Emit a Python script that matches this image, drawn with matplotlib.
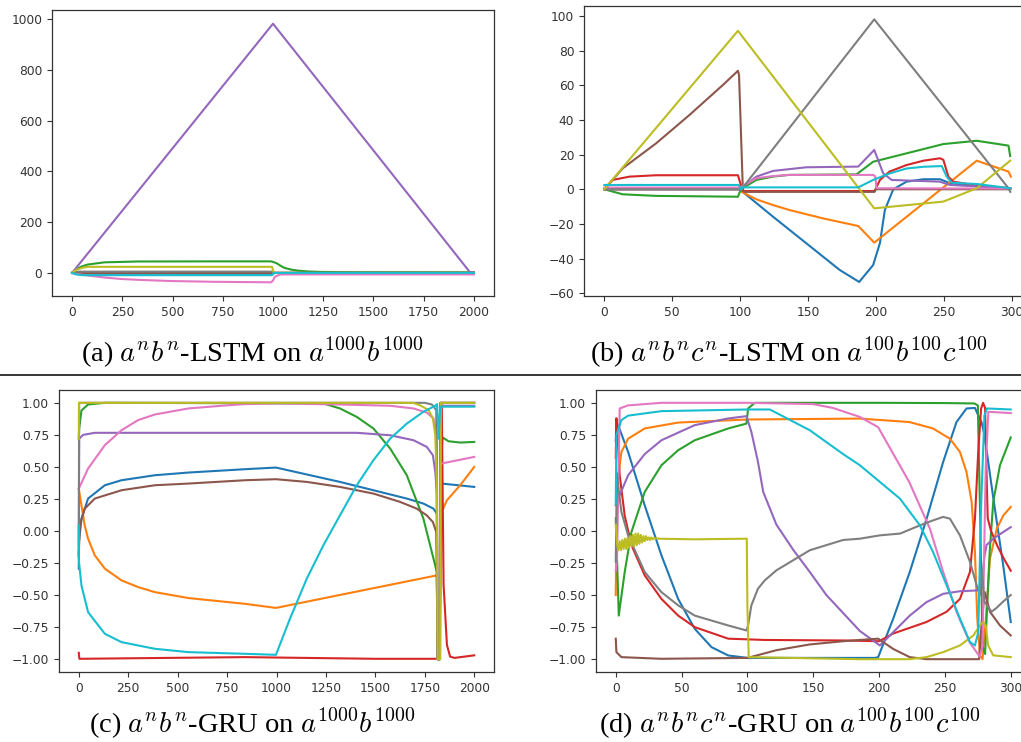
import matplotlib
matplotlib.use("Agg")
import matplotlib.pyplot as plt
from matplotlib.ticker import MultipleLocator, FuncFormatter
from matplotlib.lines import Line2D

plt.rcParams['mathtext.fontset'] = 'cm'
plt.rcParams['font.family'] = ['DejaVu Sans']

COLORS = ['#1f77b4', '#ff7f0e', '#2ca02c', '#d62728', '#9467bd',
          '#8c564b', '#e377c2', '#7f7f7f', '#bcbd22', '#17becf']

# ---------------- Panel (a): a^n b^n LSTM ----------------
a0_x = [0, 50, 1000, 1010, 2000];             a0_y = [0, -3, -3, 0, 0]
a1_x = [0, 50, 1000, 1010, 2000];             a1_y = [0, 3, 3, 0, 0]
a2_x = [0, 20, 50, 78, 161, 327, 700, 991, 1016, 1040, 1058, 1090, 1124, 1180, 1240, 1400, 2000]
a2_y = [0, 15, 26, 33, 41.7, 45, 45.5, 45.5, 39, 27, 19.6, 13, 9, 5.5, 3.9, 2.5, 2]
a3_x = [0, 30, 1000, 1010, 2000];             a3_y = [0, 2, 2, 0, 0]
a4_x = [0, 1000, 1980, 2000];                 a4_y = [0, 982, 3, 3]
a5_x = [0, 1000, 1005, 2000];                 a5_y = [0, 0, 0, 0]
a6_x = [0, 30, 78, 160, 244, 350, 493, 700, 991, 1000, 1008, 1030, 1041, 2000]
a6_y = [0, -5, -10, -18, -24, -28, -32, -35, -37, -30, -16, -8, -6, -6]
a7_x = [0, 30, 995, 1005, 2000];              a7_y = [0, 5, 5, 0, 0]
a8_x = [0, 20, 50, 78, 995, 1002, 1010, 2000]; a8_y = [0, 12, 20, 24, 24, 5, 0, 0]
a9_x = [0, 20, 50, 995, 1005, 2000];          a9_y = [0, -6, -9, -9, 0, 0]

# ---------------- Panel (b): a^n b^n c^n LSTM ----------------
b0_x = [0, 99.6, 124.2, 148.8, 173.4, 187.7, 198, 203, 206.6, 212.8, 222.6, 235, 247.3, 254.6, 271.8, 299]
b0_y = [0, 0, -15.8, -31.2, -46.6, -53.5, -43.7, -31, -12, 0, 4.4, 5.8, 5.8, 3.5, 2, 0.4]
b1_x = [0, 100, 100.9, 112, 124.2, 136.5, 161.1, 187, 198.8, 274.3, 297.7, 299.4]
b1_y = [0, 0, -1.4, -5.8, -9.1, -12, -16.8, -21.2, -30.8, 16.5, 10.2, 7.3]
b2_x = [0, 13.5, 38, 98.4, 100.5, 112, 124, 136, 185.7, 198, 249.7, 274.3, 297.7, 298.9]
b2_y = [0, -2.9, -3.8, -4.3, 0, 5.4, 7.3, 8.3, 8.6, 15.9, 26.1, 28, 25.2, 19.2]
b3_x = [0, 6.1, 18.5, 38, 98.4, 100.9, 102, 199, 199.7, 203, 210, 222.6, 235, 247.2, 249.7, 253.4, 257, 271.8, 299]
b3_y = [0, 5.4, 7.3, 8.1, 8.1, 1.5, -1, -1, 0, 5.4, 10.2, 14, 16.5, 17.9, 17, 7.3, 4.4, 2.5, 0.6]
b4_x = [0, 100, 101, 112, 124.2, 148.8, 187, 198.8, 205.4, 211.6, 247, 254.6, 299]
b4_y = [0, 0, 0.8, 7.3, 10.6, 12.7, 13.1, 22.7, 9.2, 5.4, 4.4, 2.5, 0.6]
b5_x = [0, 13.5, 38.1, 62.7, 87.3, 98.4, 99.2, 102, 103, 199, 200, 299]
b5_y = [0, 12.1, 26.5, 42.9, 60.2, 68.4, 66, 0, -1.5, -1.5, 0, 0]
b6_x = [0, 100, 101, 112, 124, 136, 198, 199.5, 200.5, 299]
b6_y = [1, 1, 1.5, 6.4, 7.6, 8.3, 8.3, 7.5, 0.6, 0.4]
b7_x = [0, 100, 101, 198.8, 297.7, 299]
b7_y = [0, 0, 0, 98.1, 0.6, -1.5]
b8_x = [0, 98.4, 198.8, 249.7, 274.3, 298.9]
b8_y = [0, 91.5, -11, -7.1, 0.6, 16.5]
b9_x = [0, 99, 100.5, 102, 187, 198, 210.3, 222.6, 235, 248.5, 252.2, 255.9, 275, 299]
b9_y = [2.5, 2.5, 0, 1.1, 1.1, 5.4, 9.2, 12, 13, 13.4, 7.3, 3.8, 3, 0.6]

# ---------------- Panel (c): a^n b^n GRU ----------------
c0_x = [0, 1, 13.5, 47, 132, 216, 385, 554, 840, 997, 1321, 1490, 1659, 1743, 1794, 1811, 1815, 1826, 1829, 1836, 2000]
c0_y = [-0.294, -0.086, 0.096, 0.253, 0.357, 0.396, 0.435, 0.456, 0.482, 0.495, 0.383, 0.318, 0.253, 0.214, 0.174, 0.135, -1.0, -1.0, 0.37, 0.37, 0.344]
c1_x = [0, 13.5, 30, 47, 81, 132, 216, 300, 385, 554, 840, 997, 1811, 1815, 1826, 1829, 1836, 1862, 1929, 2000]
c1_y = [0.33, 0.2, 0.044, -0.06, -0.19, -0.294, -0.385, -0.4375, -0.477, -0.523, -0.568, -0.6, -0.346, -1.0, -1.0, 0.12, 0.15, 0.24, 0.357, 0.5]
c2_x = [0, 2, 13.5, 47, 132, 1237, 1321, 1406, 1490, 1575, 1659, 1743, 1811, 1815, 1826, 1829, 1840, 1870, 1930, 2000]
c2_y = [0.72, 0.8, 0.94, 0.987, 1.0, 0.995, 0.956, 0.89, 0.8, 0.643, 0.435, 0.096, -0.32, -1.0, -1.0, 0.5, 0.73, 0.70, 0.69, 0.695]
c3_x = [0, 3, 840, 1500, 1827, 1831, 1836, 1845, 1862, 1878, 1900, 2000]
c3_y = [-0.95, -0.997, -0.984, -0.997, -0.997, 1.0, 0.98, -0.42, -0.89, -0.98, -0.99, -0.97]
c4_x = [0, 2, 22, 81, 1406, 1575, 1693, 1760, 1791, 1803, 1811, 1815, 1826, 1829, 2000]
c4_y = [-0.2, 0.72, 0.75, 0.766, 0.766, 0.747, 0.708, 0.656, 0.591, 0.461, 0.3, -1.0, -1.0, 0.977, 0.977]
c5_x = [0, 5, 30, 81, 216, 385, 554, 840, 997, 1153, 1321, 1490, 1625, 1710, 1760, 1791, 1808, 1815, 1826, 1829, 2000]
c5_y = [-0.19, 0.044, 0.174, 0.253, 0.318, 0.357, 0.37, 0.396, 0.404, 0.383, 0.344, 0.292, 0.227, 0.174, 0.122, 0.07, -0.008, -1.0, -1.0, 1.0, 1.0]
c6_x = [0, 47, 132, 216, 300, 385, 554, 722, 840, 1000, 1321, 1575, 1693, 1760, 1794, 1811, 1815, 1826, 1829, 1836, 2000]
c6_y = [0.33, 0.487, 0.67, 0.786, 0.865, 0.909, 0.956, 0.977, 0.99, 0.995, 0.987, 0.977, 0.956, 0.924, 0.878, 0.747, -1.0, -1.0, 0.52, 0.527, 0.578]
c7_x = [0, 2, 1750, 1786, 1808, 1815, 1826, 1829, 2000]
c7_y = [-0.1, 1.0, 1.0, 0.987, 0.943, -1.0, -1.0, 1.0, 1.0]
c8_x = [0, 1, 1690, 1727, 1769, 1791, 1803, 1811, 1815, 1828, 1831, 2000]
c8_y = [0.72, 1.0, 1.0, 0.98, 0.943, 0.878, 0.747, 0.357, -1.0, -1.0, 1.0, 1.0]
c9_x = [0, 1, 13.5, 47, 132, 216, 385, 554, 840, 997, 1068, 1153, 1237, 1321, 1406, 1490, 1575, 1659, 1743, 1803, 1812, 1820, 1828, 2000]
c9_y = [0.044, -0.24, -0.424, -0.633, -0.802, -0.867, -0.919, -0.945, -0.958, -0.966, -0.685, -0.372, -0.112, 0.122, 0.357, 0.552, 0.721, 0.838, 0.93, 0.977, 0.99, 0.72, 0.97, 0.97]

# ---------------- Panel (d): a^n b^n c^n GRU ----------------
d0_x = [0, 0.5, 1.8, 9.4, 22, 34.7, 47.4, 60, 72.7, 85.4, 100, 150, 197, 199.3, 210.7, 223.3, 236.1, 248.7, 258.8, 266.4, 272.8, 275.4, 277.8, 280, 286.7, 294.3, 300]
d0_y = [0.7, 0.85, 0.826, 0.617, 0.2, -0.19, -0.53, -0.763, -0.906, -0.971, -0.99, -0.99, -0.99, -0.984, -0.685, -0.32, 0.096, 0.54, 0.85, 0.956, 0.96, 0.90, 0.85, 0.75, 0.26, -0.27, -0.71]
d1_x = [0, 0.5, 1, 4.3, 9.4, 22, 47.4, 100, 185.4, 223, 241, 253.8, 261.4, 266.4, 270.3, 272.8, 274.6, 276.6, 278.6, 281, 284.2, 289.4, 294.4, 300]
d1_y = [-0.5, 0.0, 0.36, 0.617, 0.72, 0.8, 0.846, 0.87, 0.877, 0.85, 0.8, 0.72, 0.617, 0.46, 0.227, -0.164, -0.685, -0.97, -1.0, -0.7, -0.216, 0.018, 0.122, 0.188]
d2_x = [0, 2.3, 6.8, 11.9, 22, 34.7, 47.4, 60, 85.4, 99.3, 100.5, 105.6, 150, 200, 250, 272.4, 275, 277, 278.5, 280.5, 282, 284, 286.7, 291.8, 300]
d2_y = [0.1, -0.66, -0.32, -0.008, 0.305, 0.513, 0.63, 0.708, 0.8, 0.838, 0.956, 1.0, 1.0, 1.0, 0.998, 0.995, 0.98, 0.0, -0.9, -0.96, -0.6, -0.164, 0.227, 0.513, 0.73]
d3_x = [0, 0.5, 1.3, 3, 6.8, 11.9, 22, 34.7, 47.4, 60, 85.4, 113, 172.7, 200, 210.7, 236, 251.3, 261.4, 269, 272.8, 275.3, 277.5, 279, 280.5, 281.5, 282.5, 285, 290, 295, 300]
d3_y = [0.57, 0.88, 0.75, 0.435, 0.12, -0.11, -0.346, -0.53, -0.66, -0.75, -0.84, -0.85, -0.854, -0.86, -0.8, -0.71, -0.63, -0.53, -0.32, 0.096, 0.617, 0.956, 1.0, 0.96, 0.5, 0.1, 0.0, -0.12, -0.22, -0.31]
d4_x = [0, 3, 9.4, 22, 34.7, 60, 85.4, 99.3, 103, 108, 112, 122, 135, 147.4, 160, 172.7, 185.4, 200.6, 210.7, 223.3, 236, 248.7, 261.4, 274, 277.8, 280, 281.6, 286.7, 294.3, 300]
d4_y = [0.2, 0.28, 0.435, 0.6, 0.708, 0.826, 0.878, 0.896, 0.773, 0.54, 0.305, 0.05, -0.15, -0.32, -0.5, -0.64, -0.78, -0.893, -0.79, -0.66, -0.555, -0.49, -0.47, -0.464, -0.42, -0.2, -0.11, -0.06, -0.008, 0.03]
d5_x = [0, 0.5, 4.3, 34.7, 100, 122, 147.4, 172.7, 185.4, 199.3, 210.7, 223.3, 236, 276, 278, 280.3, 284.2, 291.8, 300]
d5_y = [-0.84, -0.945, -0.984, -0.997, -0.99, -0.93, -0.885, -0.86, -0.85, -0.84, -0.92, -0.984, -1.0, -1.0, -0.7, -0.477, -0.63, -0.737, -0.815]
d6_x = [0, 1, 3, 9.4, 34.7, 100, 150, 165, 185.4, 199.3, 223, 238.6, 248.7, 258.8, 268.9, 276.4, 278.5, 281, 283, 300]
d6_y = [-0.31, -0.2, 0.956, 0.98, 1.0, 1.0, 0.99, 0.96, 0.89, 0.81, 0.38, 0.018, -0.32, -0.63, -0.87, -0.98, -0.9, 0.5, 0.93, 0.92]
d7_x = [0, 1, 1.8, 4.3, 9.4, 22, 34.7, 47.4, 60, 85.4, 99.3, 100.5, 103, 108, 113.2, 122, 147.4, 172.7, 185.4, 200.6, 216, 231, 241, 248.7, 253.8, 261.4, 269, 274, 276.6, 278, 280, 285.4, 289.2, 294.3, 300]
d7_y = [-0.24, 0.45, 0.357, 0.148, -0.034, -0.32, -0.477, -0.58, -0.66, -0.737, -0.776, -0.737, -0.58, -0.45, -0.385, -0.307, -0.15, -0.07, -0.06, -0.034, -0.02, 0.044, 0.083, 0.11, 0.096, -0.034, -0.24, -0.42, -0.5, -0.3, -0.55, -0.63, -0.6, -0.55, -0.5]
d8_x = [0, 1, 2, 3, 4, 5, 6, 7, 8, 9, 10, 11, 12, 13, 14, 15, 16, 17, 18, 19, 20, 21, 22, 23, 24, 25, 26, 27, 28, 29, 30, 31, 32,
        60, 99.5, 100, 101, 185, 223, 236, 248.7, 261.4, 271.6, 276.6, 279, 281, 282.8, 286.7, 300]
d8_y = [0.05, -0.1, -0.15, -0.08, -0.15, -0.07, -0.14, -0.06, -0.14, -0.05, -0.13, -0.04, -0.12, -0.03, -0.12, -0.02, -0.11, -0.02,
        -0.10, -0.03, -0.09, -0.04, -0.08, -0.04, -0.07, -0.05, -0.07, -0.05, -0.065, -0.055, -0.06, -0.055, -0.06,
        -0.065, -0.06, -0.6, -0.984, -1.0, -1.0, -0.984, -0.945, -0.893, -0.815, -0.737, -0.71, -0.737, -0.893, -0.97, -0.984]
d9_x = [0, 0.5, 4.3, 9.4, 34.7, 100, 117, 147.4, 172.7, 185.4, 200.6, 215.8, 231, 241, 251.3, 261.5, 269, 272.8, 275.3, 277.5, 280, 282, 300]
d9_y = [0.21, 0.75, 0.865, 0.9, 0.935, 0.948, 0.948, 0.786, 0.60, 0.513, 0.383, 0.253, 0.044, -0.164, -0.424, -0.685, -0.867, -0.893, -0.79, 0.2, 0.9, 0.956, 0.948]

captions = [
    r"(a) $a^nb^n$-LSTM on $a^{1000}b^{1000}$",
    r"(b) $a^nb^nc^n$-LSTM on $a^{100}b^{100}c^{100}$",
    r"(c) $a^nb^n$-GRU on $a^{1000}b^{1000}$",
    r"(d) $a^nb^nc^n$-GRU on $a^{100}b^{100}c^{100}$",
]

W, H = 1021, 742
fig = plt.figure(figsize=(W / 100, H / 100), dpi=100)


def ax_px(l, t, r, b):
    return fig.add_axes([l / W, 1 - b / H, (r - l) / W, (b - t) / H])


def style(ax, xlim, ylim, xstep, ystep):
    ax.set_xlim(*xlim)
    ax.set_ylim(*ylim)
    ax.xaxis.set_major_locator(MultipleLocator(xstep))
    ax.yaxis.set_major_locator(MultipleLocator(ystep))
    for s in ax.spines.values():
        s.set_color('#333333')
        s.set_linewidth(0.9)
    ax.tick_params(labelsize=8.8, colors='#333333', length=3.5, width=0.8)


def draw(ax, series):
    for i, (xs, ys) in enumerate(series):
        ax.plot(xs, ys, color=COLORS[i], lw=1.5)


axA = ax_px(52, 10, 494, 296)
draw(axA, [(a0_x, a0_y), (a1_x, a1_y), (a2_x, a2_y), (a3_x, a3_y), (a4_x, a4_y),
           (a5_x, a5_y), (a6_x, a6_y), (a7_x, a7_y), (a8_x, a8_y), (a9_x, a9_y)])
style(axA, (-100, 2100), (-91, 1036), 250, 200)

axB = ax_px(584, 6, 1032, 296)
draw(axB, [(b0_x, b0_y), (b1_x, b1_y), (b2_x, b2_y), (b3_x, b3_y), (b4_x, b4_y),
           (b5_x, b5_y), (b6_x, b6_y), (b7_x, b7_y), (b8_x, b8_y), (b9_x, b9_y)])
style(axB, (-15, 315), (-61.6, 105.8), 50, 20)

axC = ax_px(59, 390, 494, 672)
draw(axC, [(c0_x, c0_y), (c1_x, c1_y), (c2_x, c2_y), (c3_x, c3_y), (c4_x, c4_y),
           (c5_x, c5_y), (c6_x, c6_y), (c7_x, c7_y), (c8_x, c8_y), (c9_x, c9_y)])
style(axC, (-100, 2100), (-1.1, 1.1), 250, 0.25)

axD = ax_px(596, 390, 1030.5, 672)
draw(axD, [(d0_x, d0_y), (d1_x, d1_y), (d2_x, d2_y), (d3_x, d3_y), (d4_x, d4_y),
           (d5_x, d5_y), (d6_x, d6_y), (d7_x, d7_y), (d8_x, d8_y), (d9_x, d9_y)])
style(axD, (-15, 315), (-1.1, 1.1), 50, 0.25)

for ax in (axC, axD):
    ax.yaxis.set_major_formatter(FuncFormatter(
        lambda v, p: ('%.2f' % v).replace('-', '\u2212')))

cap_pos = [(252, 362), (789, 362), (252, 733), (790, 733)]
for (cx, cy), txt in zip(cap_pos, captions):
    fig.text(cx / W, 1 - cy / H, txt, ha='center', va='baseline',
             fontsize=20.5, family='Liberation Serif', color='black')

fig.add_artist(Line2D([0, 1], [1 - 374.5 / H, 1 - 374.5 / H], color='black', lw=1.1,
                      transform=fig.transFigure))

fig.savefig('out.png', dpi=100)
